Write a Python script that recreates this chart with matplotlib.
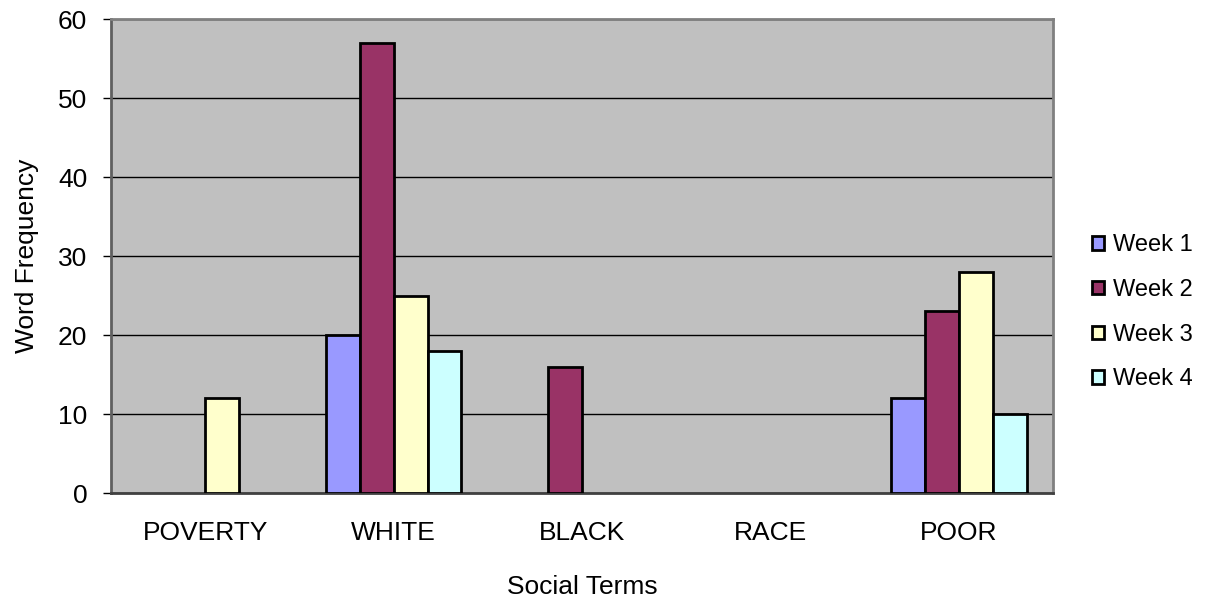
import matplotlib
matplotlib.use("Agg")
import matplotlib.pyplot as plt
import numpy as np
from matplotlib.patches import Patch

plt.rcParams['font.family'] = ['Liberation Sans', 'DejaVu Sans']

categories = ["POVERTY", "WHITE", "BLACK", "RACE", "POOR"]
series_names = ["Week 1", "Week 2", "Week 3", "Week 4"]
week1 = [0, 20, 0, 0, 12]
week2 = [0, 57, 16, 0, 23]
week3 = [12, 25, 0, 0, 28]
week4 = [0, 18, 0, 0, 10]
colors = ["#9999FF", "#993366", "#FFFFCC", "#CCFFFF"]

fig = plt.figure(figsize=(12.05, 6.03), dpi=100)
ax = fig.add_axes([0.0921, 0.1824, 0.7818, 0.786])
ax.set_facecolor("#C0C0C0")

x = np.arange(len(categories))
bw = 0.18
series = [week1, week2, week3, week4]
for i, (vals, c) in enumerate(zip(series, colors)):
    offs = (i - 1.5) * bw
    for xi, v in zip(x, vals):
        if v > 0:
            ax.bar(xi + offs, v, width=bw, color=c, edgecolor="black",
                   linewidth=2, zorder=3)

ax.set_xlim(-0.5, len(categories) - 0.5)
ax.set_ylim(0, 60)
ax.set_yticks(np.arange(0, 61, 10))
ax.yaxis.grid(True, color="black", linewidth=1)
ax.set_axisbelow(True)
ax.set_xticks(x)
ax.set_xticklabels(categories, fontsize=19)
ax.tick_params(axis='x', length=0, pad=20)
ax.tick_params(axis='y', labelsize=19, length=6, width=1, pad=11)

for s in ["top", "right"]:
    ax.spines[s].set_color("#808080")
    ax.spines[s].set_linewidth(2)
ax.spines["left"].set_color("#606060")
ax.spines["left"].set_linewidth(2)
ax.spines["bottom"].set_color("#404040")
ax.spines["bottom"].set_linewidth(2)

ax.set_ylabel("Word Frequency", fontsize=19, labelpad=14)
ax.set_xlabel("Social Terms", fontsize=19, labelpad=22)

handles = [Patch(facecolor=c, edgecolor="black", linewidth=2) for c in colors]
fig.legend(handles, series_names, loc="center left",
           bbox_to_anchor=(0.889, 0.482), frameon=False, fontsize=17,
           handlelength=0.48, handleheight=0.48, handletextpad=0.4,
           labelspacing=0.96)

fig.savefig("out.png", dpi=100)
